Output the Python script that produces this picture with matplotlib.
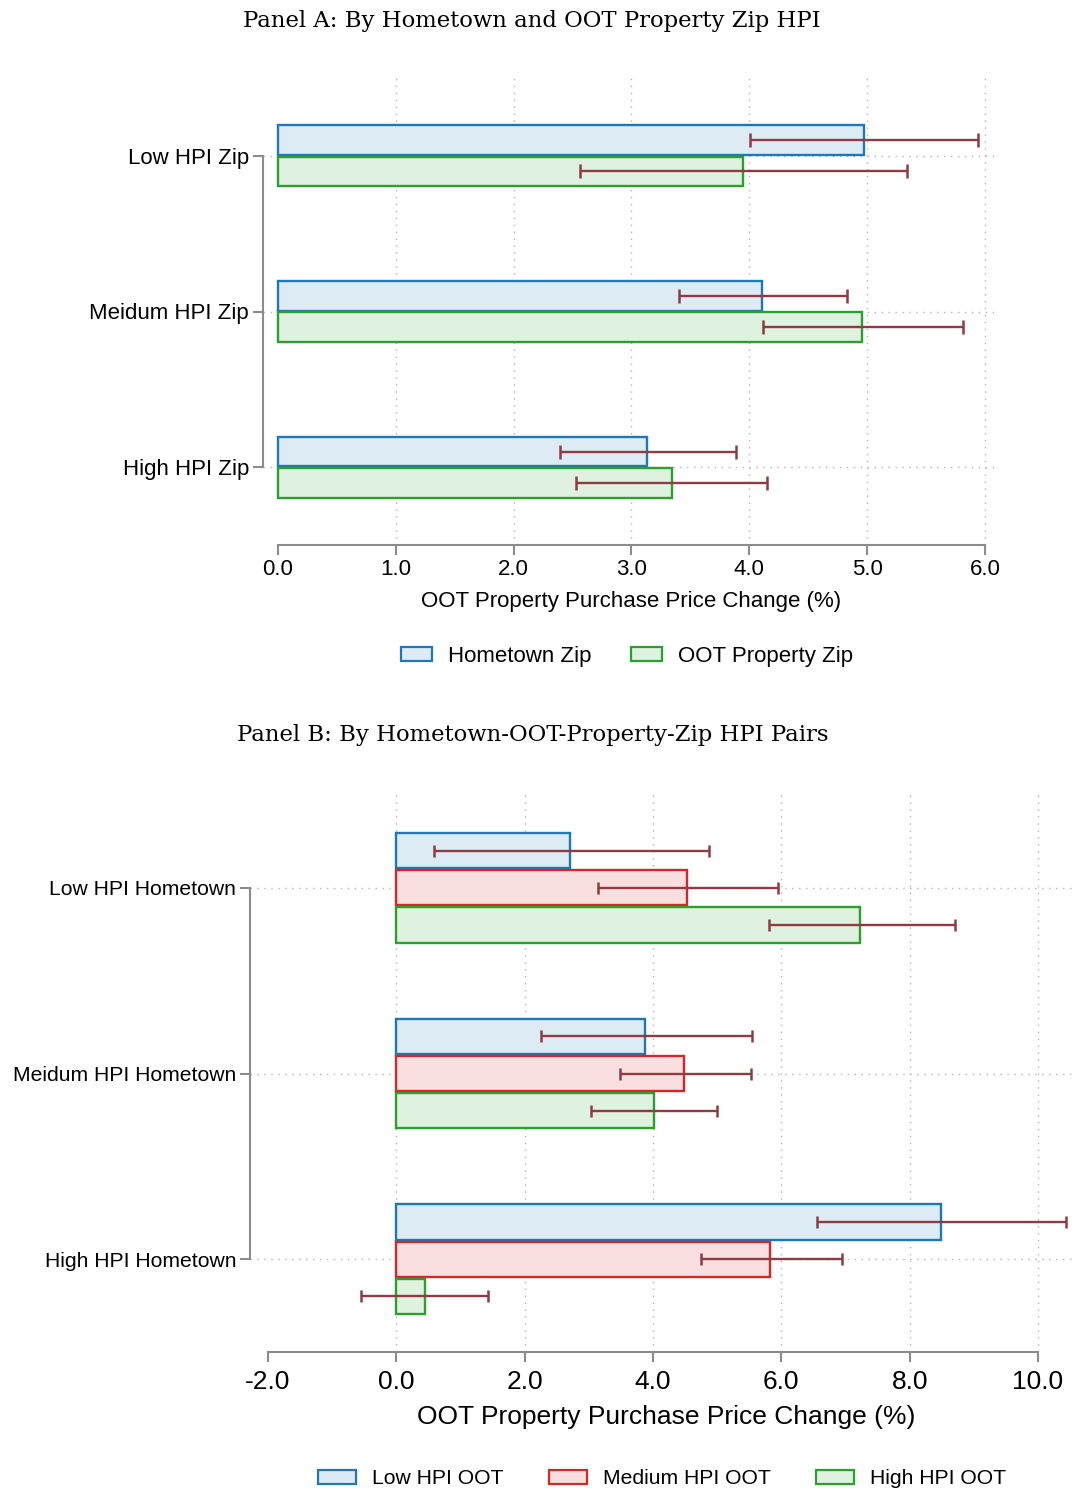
import numpy as np
import matplotlib.pyplot as plt
from matplotlib.patches import Patch

# ---- data ----
a_cats = ['Low HPI Zip', 'Meidum HPI Zip', 'High HPI Zip']
a_series = ['Hometown Zip', 'OOT Property Zip']
a_vals = [[4.97, 4.11, 3.13],     # Hometown Zip
          [3.95, 4.96, 3.34]]     # OOT Property Zip
a_lo = [[4.01, 3.40, 2.39],
        [2.56, 4.12, 2.53]]
a_hi = [[5.94, 4.83, 3.89],
        [5.34, 5.81, 4.15]]

b_cats = ['Low HPI Hometown', 'Meidum HPI Hometown', 'High HPI Hometown']
b_series = ['Low HPI OOT', 'Medium HPI OOT', 'High HPI OOT']
b_vals = [[2.71, 3.88, 8.48],
          [4.53, 4.49, 5.83],
          [7.23, 4.01, 0.44]]
b_lo = [[0.58, 2.26, 6.56],
        [3.15, 3.48, 4.74],
        [5.80, 3.04, -0.55]]
b_hi = [[4.88, 5.55, 10.43],
        [5.95, 5.53, 6.95],
        [8.71, 5.00, 1.43]]

a_ticks = [0, 1, 2, 3, 4, 5, 6]
b_ticks = [-2, 0, 2, 4, 6, 8, 10]

edge_cols = ['#1f77b4', '#2ca02c']
b_edge_cols = ['#1f77b4', '#d62728', '#2ca02c']
err_col = '#8e3b43'
spine_col = '#8c8c8c'
grid_col = '#b4b4b4'

W, H = 1076, 1492
fig = plt.figure(figsize=(W / 100, H / 100), dpi=100)
plt.rcParams['font.family'] = ['Liberation Sans', 'DejaVu Sans']


def px_rect(l, t, r, b):
    return [l / W, 1 - b / H, (r - l) / W, (b - t) / H]


def light(c, a=0.15):
    rgb = np.array(plt.matplotlib.colors.to_rgb(c))
    return tuple(1 - a * (1 - rgb))


def panel(ax, cats, vals, lo, hi, cols, offsets, height, ticks, xlim,
          tick_fs, ylab_fs, capsize):
    y = np.arange(len(cats))
    for i, (v, l, h) in enumerate(zip(vals, lo, hi)):
        yy = y + offsets[i]
        ax.barh(yy, v, height=height, color=light(cols[i]),
                edgecolor=cols[i], linewidth=1.7, zorder=2)
        v = np.array(v)
        ax.errorbar(v, yy, xerr=[v - np.array(l), np.array(h) - v],
                    fmt='none', ecolor=err_col, elinewidth=1.7,
                    capsize=capsize, capthick=1.8, zorder=3)
    ax.set_ylim(2.5, -0.5)
    ax.set_xlim(*xlim)
    ax.set_yticks(y)
    ax.set_yticklabels(cats, fontsize=ylab_fs)
    ax.set_xticks(ticks)
    ax.set_xticklabels(['%.1f' % t for t in ticks], fontsize=tick_fs)
    for s in ['top', 'right']:
        ax.spines[s].set_visible(False)
    ax.spines['left'].set_bounds(0, 2)
    ax.spines['bottom'].set_bounds(ticks[0], ticks[-1])
    for s in ['left', 'bottom']:
        ax.spines[s].set_color(spine_col)
        ax.spines[s].set_linewidth(1.5)
    ax.tick_params(axis='both', color=spine_col, width=1.5, length=7)
    ax.tick_params(axis='y', pad=3)
    ax.grid(True, color=grid_col, linestyle=(0, (1, 4)), linewidth=1.0)
    ax.set_axisbelow(True)
    ax.xaxis.get_gridlines()[0].set_visible(False)


# ---- Panel A ----
axA = fig.add_axes(px_rect(263, 78, 998, 545))
xl = (-15 / 117.83, 720 / 117.83)
panel(axA, a_cats, a_vals, a_lo, a_hi, edge_cols, [-0.1, 0.1], 0.19,
      a_ticks, xl, 16, 16, 5)
axA.tick_params(axis='x', pad=3)

fig.text(532 / W, 1 - 21 / H, 'Panel A: By Hometown and OOT Property Zip HPI',
         ha='center', va='center', fontsize=16.4, family='DejaVu Serif')
fig.text(631 / W, 1 - 601 / H, 'OOT Property Purchase Price Change (%)',
         ha='center', va='center', fontsize=16)
hA = [Patch(facecolor=light(c), edgecolor=c, linewidth=1.6) for c in edge_cols]
fig.legend(hA, a_series, loc='center', bbox_to_anchor=(627 / W, 1 - 656 / H),
           ncol=2, frameon=False, fontsize=16, handlelength=1.4,
           handleheight=0.6, columnspacing=1.8, handletextpad=0.7)

# ---- Panel B ----
axB = fig.add_axes(px_rect(250, 795, 1076, 1352))
xl = (-2 - 18 / 64.17, -2 + 808 / 64.17)
panel(axB, b_cats, b_vals, b_lo, b_hi, b_edge_cols, [-0.2, 0.0, 0.2], 0.19,
      b_ticks, xl, 19, 15.2, 4)
axB.tick_params(axis='x', pad=6)

fig.text(533 / W, 1 - 735 / H, 'Panel B: By Hometown-OOT-Property-Zip HPI Pairs',
         ha='center', va='center', fontsize=16.4, family='DejaVu Serif')
fig.text(666 / W, 1 - 1417 / H, 'OOT Property Purchase Price Change (%)',
         ha='center', va='center', fontsize=19)
hB = [Patch(facecolor=light(c), edgecolor=c, linewidth=1.6) for c in b_edge_cols]
fig.legend(hB, b_series, loc='center', bbox_to_anchor=(662 / W, 1 - 1479 / H),
           ncol=3, frameon=False, fontsize=15.2, handlelength=1.8,
           handleheight=0.6, columnspacing=2.15, handletextpad=0.75)

fig.savefig('out.png', dpi=100)
